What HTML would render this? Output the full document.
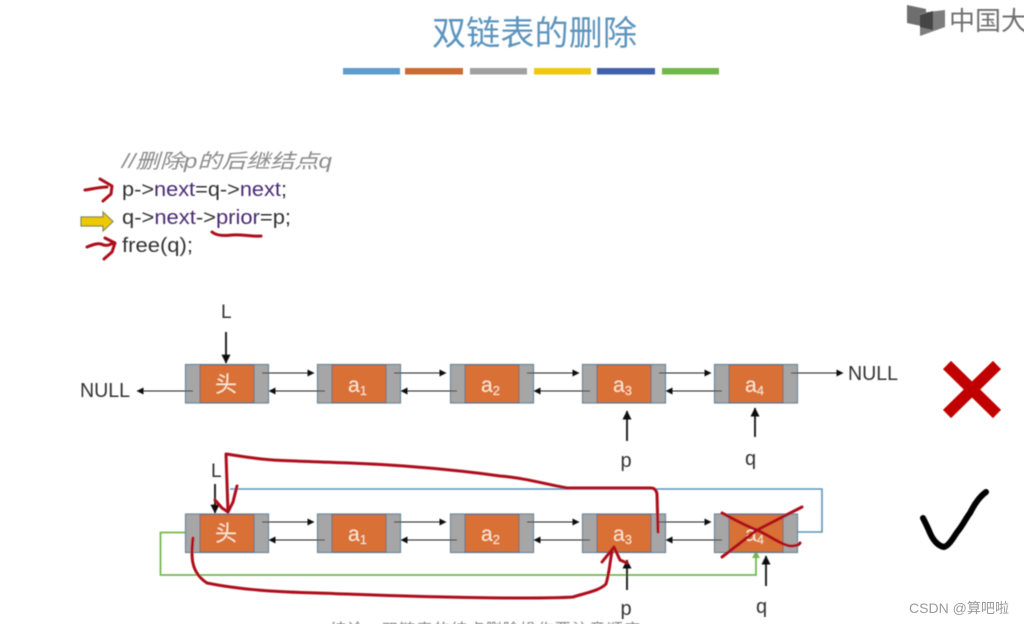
<!DOCTYPE html>
<html><head><meta charset="utf-8">
<style>
html,body{margin:0;padding:0;background:#fff}
svg{display:block}
text{font-family:"Liberation Sans","Noto Sans CJK SC",sans-serif}
</style></head>
<body>
<svg width="1024" height="624" viewBox="0 0 1024 624" xmlns="http://www.w3.org/2000/svg">
<defs>
<filter id="b" x="-5%" y="-5%" width="110%" height="110%"><feGaussianBlur stdDeviation="0.5"/></filter>
<g id="n"><rect x="0.5" y="0.5" width="83" height="38.5" fill="#a6a6a6" stroke="#6d8799" stroke-width="1.2"/><rect x="15" y="1" width="54" height="37.5" fill="#d97034" stroke="#4f6b80" stroke-width="0.8"/></g>
<marker id="a" viewBox="0 0 8 8" refX="7.5" refY="4" markerWidth="7" markerHeight="7" markerUnits="userSpaceOnUse" orient="auto"><path d="M0 0L8 4L0 8z" fill="#111"/></marker>
<marker id="A" viewBox="0 0 8 8" refX="7.5" refY="4" markerWidth="10" markerHeight="9" markerUnits="userSpaceOnUse" orient="auto"><path d="M0 0L8 4L0 8z" fill="#111"/></marker>
</defs>
<rect width="1024" height="624" fill="#fff"/>
<g filter="url(#b)">
<!-- title -->
<text x="432" y="45" font-size="34" fill="#5d94be" textLength="205" lengthAdjust="spacingAndGlyphs">双链表的删除</text>
<rect x="343" y="68" width="57" height="6.5" fill="#5f9bcb"/>
<rect x="405" y="68" width="58" height="6.5" fill="#cc6a32"/>
<rect x="470" y="68" width="57" height="6.5" fill="#a0a0a0"/>
<rect x="534" y="68" width="57" height="6.5" fill="#eec80f"/>
<rect x="597" y="68" width="58" height="6.5" fill="#3f62ab"/>
<rect x="662" y="68" width="57" height="6.5" fill="#6fb84a"/>
<!-- logo -->
<path d="M907 5L926 9L926 27L907 23z" fill="#6e6e6e"/>
<path d="M920 13L945 10L945 27L920 36z" fill="#7d7d7d"/>
<path d="M920 15L933 11L933 30L920 27z" fill="#444"/>
<text x="949" y="30" font-size="26" fill="#707070">中国大</text>
<!-- code -->
<text x="122" y="168" font-size="20" font-style="italic" fill="#8a8a8a" textLength="210" lengthAdjust="spacingAndGlyphs">//删除p的后继结点q</text>
<text x="122" y="196" font-size="20" fill="#333" textLength="165" lengthAdjust="spacingAndGlyphs">p-&gt;<tspan fill="#4a2a72">next</tspan>=q-&gt;<tspan fill="#4a2a72">next</tspan>;</text>
<text x="122" y="224" font-size="20" fill="#333" textLength="169" lengthAdjust="spacingAndGlyphs">q-&gt;<tspan fill="#4a2a72">next</tspan>-&gt;<tspan fill="#4a2a72">prior</tspan>=p;</text>
<text x="122" y="252" font-size="20" fill="#333" textLength="71" lengthAdjust="spacingAndGlyphs">free(q);</text>
<path d="M81 217H103V212L113 221.5L103 231V226H81z" fill="#eec900" stroke="#7f8a50" stroke-width="1.2"/>
<!-- top row -->
<use href="#n" x="185" y="364"/><use href="#n" x="317" y="364"/><use href="#n" x="450" y="364"/><use href="#n" x="582" y="364"/><use href="#n" x="714" y="364"/>
<g stroke="#222" stroke-width="1" fill="none">
<path d="M262 373H314" marker-end="url(#a)"/><path d="M394 373H446" marker-end="url(#a)"/><path d="M527 373H579" marker-end="url(#a)"/><path d="M659 373H711" marker-end="url(#a)"/><path d="M791 373H843" marker-end="url(#a)"/>
<path d="M193 391H137" marker-end="url(#a)"/><path d="M325 391H269" marker-end="url(#a)"/><path d="M457 391H401" marker-end="url(#a)"/><path d="M590 391H534" marker-end="url(#a)"/><path d="M722 391H666" marker-end="url(#a)"/>
</g>
<g stroke="#111" stroke-width="1.8" fill="none">
<path d="M226 332V363" marker-end="url(#A)"/><path d="M627 441V411" marker-end="url(#A)"/><path d="M755 437V408" marker-end="url(#A)"/>
</g>
<g fill="#333">
<text x="221" y="318" font-size="19">L</text>
<text x="80" y="397" font-size="20" textLength="50" lengthAdjust="spacingAndGlyphs">NULL</text>
<text x="848" y="380" font-size="20" textLength="50" lengthAdjust="spacingAndGlyphs">NULL</text>
<text x="620.500" y="467" font-size="20">p</text>
<text x="745" y="465" font-size="20">q</text>
</g>
<g fill="#fbe6cf" font-size="21">
<text x="215" y="392" font-size="22">头</text>
<text x="348" y="392">a<tspan font-size="13" dy="3">1</tspan></text>
<text x="481" y="392">a<tspan font-size="13" dy="3">2</tspan></text>
<text x="613" y="392">a<tspan font-size="13" dy="3">3</tspan></text>
<text x="745" y="392">a<tspan font-size="13" dy="3">4</tspan></text>
</g>
<!-- bottom row connectors -->
<path d="M230 489H822V532H798" fill="none" stroke="#5f94b8" stroke-width="1.6"/>
<path d="M185 532.5H160.5V575H756V556" fill="none" stroke="#74b84e" stroke-width="1.8"/>
<path d="M752 558L756 551L760 558z" fill="#74b84e"/>
<use href="#n" x="185" y="513.5"/><use href="#n" x="317" y="513.5"/><use href="#n" x="450" y="513.5"/><use href="#n" x="582" y="513.5"/><use href="#n" x="714" y="513.5"/>
<g stroke="#222" stroke-width="1" fill="none">
<path d="M262 522H314" marker-end="url(#a)"/><path d="M394 522H446" marker-end="url(#a)"/><path d="M527 522H579" marker-end="url(#a)"/><path d="M659 522H711" marker-end="url(#a)"/>
<path d="M325 540H269" marker-end="url(#a)"/><path d="M457 540H401" marker-end="url(#a)"/><path d="M590 540H534" marker-end="url(#a)"/><path d="M722 540H666" marker-end="url(#a)"/>
</g>
<g stroke="#111" stroke-width="1.8" fill="none">
<path d="M215 484V513" marker-end="url(#A)"/><path d="M627 590V560" marker-end="url(#A)"/><path d="M766 586V556" marker-end="url(#A)"/>
</g>
<g fill="#333">
<text x="211" y="477" font-size="19">L</text>
<text x="620.500" y="615" font-size="20">p</text>
<text x="756" y="613" font-size="20">q</text>
</g>
<g fill="#fbe6cf" font-size="21">
<text x="215" y="541" font-size="22">头</text>
<text x="348" y="541">a<tspan font-size="13" dy="3">1</tspan></text>
<text x="481" y="541">a<tspan font-size="13" dy="3">2</tspan></text>
<text x="613" y="541">a<tspan font-size="13" dy="3">3</tspan></text>
<text x="745" y="541">a<tspan font-size="13" dy="3">4</tspan></text>
</g>
<!-- faint clipped caption -->
<text x="330" y="635" font-size="16" fill="#888" textLength="310">结论：双链表的结点删除操作要注意顺序</text>
<!-- ink: red -->
<g fill="none" stroke="#ad0f1c" stroke-width="3" stroke-linecap="round" stroke-linejoin="round">
<path d="M85 190C92 189 100 187 107 187M100 179L112 186L111 194L103 201"/>
<path d="M87 247C92 245 97 243 101 244C105 246 108 246 113 243M105 238L115 243L112 252L104 259"/>
<path d="M212 232C217 236 225 236 232 235C242 234 252 237 261 236"/>
<path d="M658 532L657 494Q656 488 651 488L567 488C545 484 525 478 500 476C450 469 400 465 350 463C320 462 290 461 273 460C255 459 240 456 226 454L228 512"/>
<path d="M215 500L222 508L228 512L233 502L237 486"/>
<path d="M193 538C191 555 190 572 207 583C240 590 280 592 317 593C380 595 440 598 520 598C540 598 560 598 573 597C590 592 600 590 606 584C610 570 610 560 612 552"/>
<path d="M602 562L614 547L620 560L627 563"/>
<path d="M722 513C735 520 748 527 757 530C770 536 780 544 790 546C795 546 799 545 800 543"/>
<path d="M722 557L757 530L802 507"/>
</g>
<!-- X -->
<path d="M947 365L997 414M997 365L947 414" stroke="#c00000" stroke-width="11.5" fill="none"/>
<!-- check -->
<path d="M923 518C926 524 928 528 930 533C933 540 938 546 944 547C950 545 954 536 958 531C963 525 966 518 970 513C974 505 979 497 986 492" fill="none" stroke="#000" stroke-width="6" stroke-linecap="round" stroke-linejoin="round"/>
</g>
<text x="909" y="613" font-size="14" fill="#9a9a9a" textLength="100" lengthAdjust="spacingAndGlyphs">CSDN @算吧啦</text>
</svg>
</body></html>
